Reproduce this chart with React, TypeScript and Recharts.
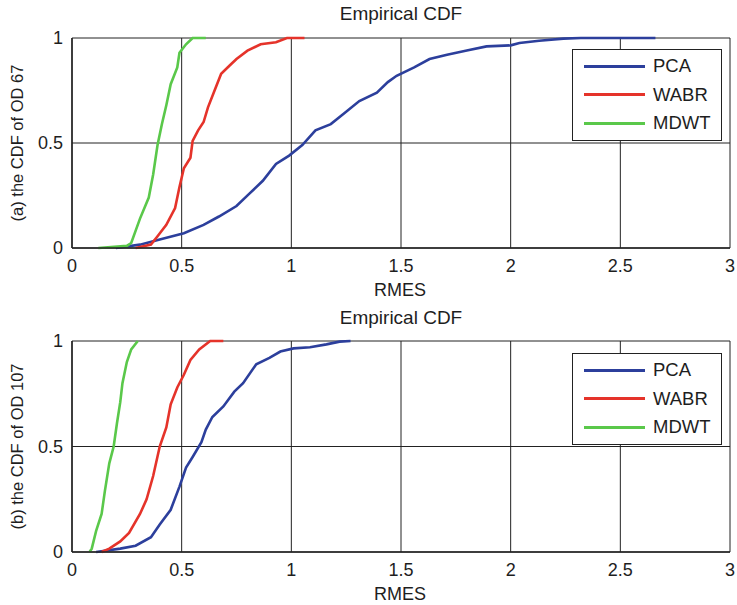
import React from "react";
import { LineChart, Line, XAxis, YAxis, CartesianGrid } from "recharts";

// (RMES, CDF) pairs, top panel: OD 67
const pcaTop: [number, number][] = [
  [0.2, 0], [0.31, 0.016], [0.4, 0.04], [0.51, 0.07], [0.6, 0.11], [0.67, 0.15],
  [0.75, 0.2], [0.81, 0.26], [0.87, 0.32], [0.93, 0.4], [0.99, 0.44], [1.05, 0.49],
  [1.11, 0.56], [1.18, 0.59], [1.24, 0.64], [1.31, 0.7], [1.39, 0.74], [1.44, 0.79],
  [1.48, 0.82], [1.56, 0.86], [1.63, 0.9], [1.71, 0.92], [1.8, 0.94], [1.89, 0.96],
  [2.0, 0.965], [2.04, 0.976], [2.13, 0.987], [2.24, 0.997], [2.32, 1], [2.66, 1],
];
const wabrTop: [number, number][] = [
  [0.29, 0], [0.36, 0.016], [0.39, 0.056], [0.43, 0.11], [0.47, 0.19], [0.49, 0.29],
  [0.51, 0.38], [0.54, 0.43], [0.55, 0.51], [0.575, 0.56], [0.6, 0.6], [0.62, 0.67],
  [0.65, 0.75], [0.68, 0.83], [0.72, 0.87], [0.75, 0.9], [0.8, 0.94], [0.86, 0.97],
  [0.93, 0.98], [0.98, 1], [1.06, 1],
];
const mdwtTop: [number, number][] = [
  [0.12, 0], [0.25, 0.01], [0.27, 0.024], [0.31, 0.14], [0.35, 0.24], [0.37, 0.35],
  [0.39, 0.49], [0.41, 0.59], [0.43, 0.68], [0.45, 0.78], [0.48, 0.86], [0.49, 0.93],
  [0.52, 0.97], [0.55, 1], [0.61, 1],
];

// bottom panel: OD 107
const pcaBottom: [number, number][] = [
  [0.11, 0], [0.22, 0.016], [0.29, 0.03], [0.36, 0.07], [0.4, 0.13], [0.45, 0.2],
  [0.49, 0.31], [0.52, 0.4], [0.55, 0.45], [0.59, 0.52], [0.61, 0.58], [0.64, 0.64],
  [0.69, 0.69], [0.74, 0.76], [0.78, 0.8], [0.84, 0.89], [0.9, 0.92], [0.95, 0.95],
  [1.01, 0.965], [1.085, 0.97], [1.16, 0.984], [1.22, 0.997], [1.27, 1],
];
const wabrBottom: [number, number][] = [
  [0.135, 0], [0.17, 0.016], [0.22, 0.05], [0.26, 0.09], [0.31, 0.18], [0.34, 0.25],
  [0.37, 0.36], [0.4, 0.5], [0.43, 0.59], [0.45, 0.7], [0.48, 0.78], [0.51, 0.84],
  [0.54, 0.91], [0.58, 0.96], [0.63, 1], [0.69, 1],
];
const mdwtBottom: [number, number][] = [
  [0.08, 0], [0.09, 0.016], [0.11, 0.1], [0.135, 0.18], [0.15, 0.29], [0.17, 0.42],
  [0.19, 0.5], [0.205, 0.61], [0.22, 0.71], [0.23, 0.8], [0.25, 0.9], [0.27, 0.96],
  [0.3, 1],
];

const xTicks = [0, 0.5, 1, 1.5, 2, 2.5, 3];
const yTicks = [0, 0.5, 1];
const seriesNames = ["PCA", "WABR", "MDWT"];
const COLORS = ["#2c3f9c", "#e5332a", "#5ac84a"];

const FONT = "'Liberation Sans', Arial, sans-serif";
const INK = "#1e1e1e";

const toRows = (pts: [number, number][]) => pts.map(([x, y]) => ({ x, y }));

const fmt = (v: number) => String(v);

function LegendBox({ top }: { top: number }) {
  return (
    <div
      style={{
        position: "absolute",
        left: 572,
        top,
        width: 150,
        height: 92,
        border: "1.5px solid #222",
        background: "#fff",
        boxSizing: "border-box",
        fontFamily: FONT,
        fontSize: 18.5,
        color: INK,
      }}
    >
      {seriesNames.map((name, i) => (
        <div
          key={name}
          style={{ position: "absolute", left: 0, top: 4 + i * 28.5, height: 24, display: "flex", alignItems: "center" }}
        >
          <span style={{ display: "inline-block", marginLeft: 11, width: 61, height: 3, background: COLORS[i] }} />
          <span style={{ marginLeft: 8 }}>{name}</span>
        </div>
      ))}
    </div>
  );
}

interface PanelProps {
  series: [number, number][][];
  yLabel: string;
  height: number;
  top: number;
  xAxisHeight: number;
}

function Panel({ series, yLabel, height, top, xAxisHeight }: PanelProps) {
  const plotBottom = height - xAxisHeight;
  const midY = top + (plotBottom - top) / 2;
  return (
    <LineChart
      width={737}
      height={height}
      margin={{ top, right: 7, bottom: 0, left: 0 }}
      style={{ fontFamily: FONT }}
    >
      <CartesianGrid stroke="#222" strokeWidth={1} horizontalValues={yTicks} verticalValues={xTicks} />
      <XAxis
        type="number"
        dataKey="x"
        domain={[0, 3]}
        ticks={xTicks}
        tickFormatter={fmt}
        height={xAxisHeight}
        axisLine={{ stroke: "#222", strokeWidth: 1.5 }}
        tickLine={false}
        tickSize={0}
        tickMargin={11}
        tick={{ fill: INK, fontSize: 18, fontFamily: FONT }}
        allowDuplicatedCategory={false}
        label={{
          content: () => (
            <text x={400} y={plotBottom + 48} textAnchor="middle" fill={INK} fontSize={18} fontFamily={FONT}>
              RMES
            </text>
          ),
        }}
      />
      <YAxis
        type="number"
        dataKey="y"
        domain={[0, 1]}
        ticks={yTicks}
        tickFormatter={fmt}
        width={72}
        axisLine={{ stroke: "#222", strokeWidth: 1.5 }}
        tickLine={false}
        tickSize={0}
        tickMargin={9}
        tick={{ fill: INK, fontSize: 18, fontFamily: FONT }}
        label={{
          content: () => (
            <text
              x={23}
              y={midY}
              transform={`rotate(-90 23 ${midY})`}
              textAnchor="middle"
              fill={INK}
              fontSize={16.5}
              fontFamily={FONT}
            >
              {yLabel}
            </text>
          ),
        }}
      />
      {series.map((pts, i) => (
        <Line
          key={seriesNames[i]}
          name={seriesNames[i]}
          data={toRows(pts)}
          dataKey="y"
          type="linear"
          stroke={COLORS[i]}
          strokeWidth={2.6}
          dot={false}
          isAnimationActive={false}
        />
      ))}
    </LineChart>
  );
}

function Title({ top }: { top: number }) {
  return (
    <div
      style={{
        position: "absolute",
        left: 72,
        width: 658,
        top,
        textAlign: "center",
        fontFamily: FONT,
        fontSize: 19,
        color: INK,
      }}
    >
      Empirical CDF
    </div>
  );
}

export default function App() {
  return (
    <div style={{ position: "fixed", left: 0, top: 0, width: 737, height: 605, background: "#fff", overflow: "hidden" }}>
      <div style={{ position: "absolute", left: 0, top: 0 }}>
        <Panel series={[pcaTop, wabrTop, mdwtTop]} yLabel="(a) the CDF of OD 67" height={300} top={38} xAxisHeight={52} />
      </div>
      <div style={{ position: "absolute", left: 0, top: 300 }}>
        <Panel series={[pcaBottom, wabrBottom, mdwtBottom]} yLabel="(b) the CDF of OD 107" height={305} top={41} xAxisHeight={53} />
      </div>
      <LegendBox top={49} />
      <LegendBox top={353} />
      <Title top={3} />
      <Title top={307} />
    </div>
  );
}
